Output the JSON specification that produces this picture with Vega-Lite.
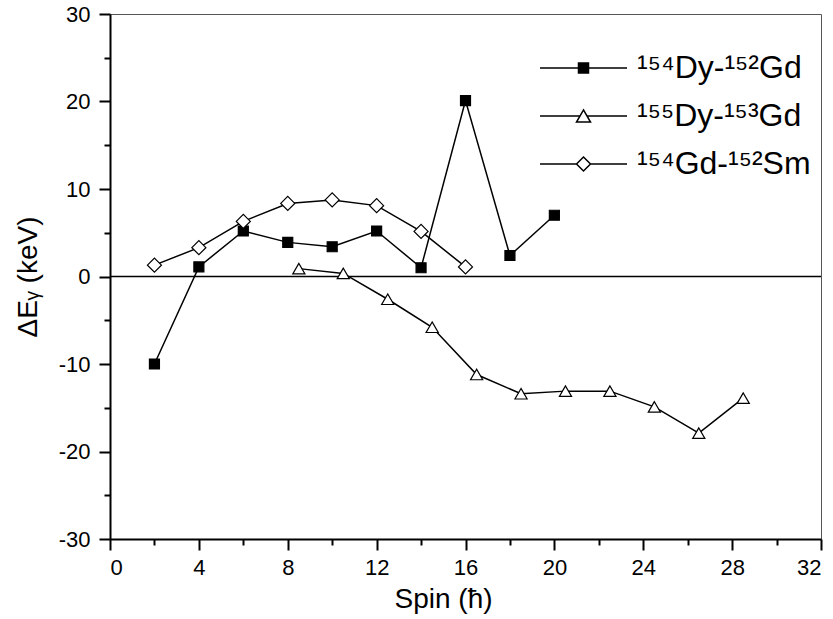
{
  "$schema": "https://vega.github.io/schema/vega-lite/v6.json",
  "width": 711,
  "height": 525,
  "autosize": "none",
  "padding": {"left": 110, "top": 14, "right": 12, "bottom": 80},
  "background": "white",
  "config": {
    "view": {"stroke": "#555555", "strokeWidth": 1},
    "font": "Liberation Sans",
    "axis": {"grid": false, "domainColor": "black", "domainWidth": 2, "tickColor": "black", "tickWidth": 2, "labelColor": "black", "titleColor": "black", "labelFont": "Liberation Sans", "titleFont": "Liberation Sans", "labelFontSize": 22, "titleFontSize": 28, "titleFontWeight": "normal"}
  },
  "data": {
    "values": [
      {"series": "¹⁵⁴Dy-¹⁵²Gd", "spin": 2, "dE": -10.0},
      {"series": "¹⁵⁴Dy-¹⁵²Gd", "spin": 4, "dE": 1.1},
      {"series": "¹⁵⁴Dy-¹⁵²Gd", "spin": 6, "dE": 5.2},
      {"series": "¹⁵⁴Dy-¹⁵²Gd", "spin": 8, "dE": 3.9},
      {"series": "¹⁵⁴Dy-¹⁵²Gd", "spin": 10, "dE": 3.4},
      {"series": "¹⁵⁴Dy-¹⁵²Gd", "spin": 12, "dE": 5.2},
      {"series": "¹⁵⁴Dy-¹⁵²Gd", "spin": 14, "dE": 1.0},
      {"series": "¹⁵⁴Dy-¹⁵²Gd", "spin": 16, "dE": 20.1},
      {"series": "¹⁵⁴Dy-¹⁵²Gd", "spin": 18, "dE": 2.4},
      {"series": "¹⁵⁴Dy-¹⁵²Gd", "spin": 20, "dE": 7.0},
      {"series": "¹⁵⁵Dy-¹⁵³Gd", "spin": 8.5, "dE": 0.9},
      {"series": "¹⁵⁵Dy-¹⁵³Gd", "spin": 10.5, "dE": 0.35},
      {"series": "¹⁵⁵Dy-¹⁵³Gd", "spin": 12.5, "dE": -2.6},
      {"series": "¹⁵⁵Dy-¹⁵³Gd", "spin": 14.5, "dE": -5.8},
      {"series": "¹⁵⁵Dy-¹⁵³Gd", "spin": 16.5, "dE": -11.2},
      {"series": "¹⁵⁵Dy-¹⁵³Gd", "spin": 18.5, "dE": -13.4},
      {"series": "¹⁵⁵Dy-¹⁵³Gd", "spin": 20.5, "dE": -13.1},
      {"series": "¹⁵⁵Dy-¹⁵³Gd", "spin": 22.5, "dE": -13.1},
      {"series": "¹⁵⁵Dy-¹⁵³Gd", "spin": 24.5, "dE": -14.9},
      {"series": "¹⁵⁵Dy-¹⁵³Gd", "spin": 26.5, "dE": -17.9},
      {"series": "¹⁵⁵Dy-¹⁵³Gd", "spin": 28.5, "dE": -13.9},
      {"series": "¹⁵⁴Gd-¹⁵²Sm", "spin": 2, "dE": 1.3},
      {"series": "¹⁵⁴Gd-¹⁵²Sm", "spin": 4, "dE": 3.3},
      {"series": "¹⁵⁴Gd-¹⁵²Sm", "spin": 6, "dE": 6.3},
      {"series": "¹⁵⁴Gd-¹⁵²Sm", "spin": 8, "dE": 8.35},
      {"series": "¹⁵⁴Gd-¹⁵²Sm", "spin": 10, "dE": 8.75},
      {"series": "¹⁵⁴Gd-¹⁵²Sm", "spin": 12, "dE": 8.1},
      {"series": "¹⁵⁴Gd-¹⁵²Sm", "spin": 14, "dE": 5.15},
      {"series": "¹⁵⁴Gd-¹⁵²Sm", "spin": 16, "dE": 1.1}
    ]
  },
  "layer": [
    {
      "data": {"values": [{"zero": 0}]},
      "mark": {"type": "rule", "color": "black", "strokeWidth": 1.5},
      "encoding": {
        "y": {"field": "zero", "type": "quantitative", "scale": {"domain": [-30, 30], "nice": false, "zero": false},
          "axis": {"values": [-30, -25, -20, -15, -10, -5, 0, 5, 10, 15, 20, 25, 30], "labelExpr": "datum.value % 10 === 0 ? '' + datum.value : ''", "tickSize": {"condition": {"test": "datum.value % 10 === 0", "value": 11}, "value": 6}, "labelPadding": 9, "title": "ΔEᵧ (keV)", "titlePadding": 16}}
      }
    },
    {
      "mark": {"type": "line", "color": "black", "strokeWidth": 1.5},
      "encoding": {
        "x": {"field": "spin", "type": "quantitative", "scale": {"domain": [0, 32], "nice": false, "zero": false},
          "axis": {"values": [0, 2, 4, 6, 8, 10, 12, 14, 16, 18, 20, 22, 24, 26, 28, 30, 32], "labelExpr": "datum.value % 4 === 0 ? '' + datum.value : ''", "tickSize": {"condition": {"test": "datum.value % 4 === 0", "value": 11}, "value": 6}, "labelPadding": 7, "title": "Spin (ħ)", "titlePadding": 7, "titleX": 333, "titleAnchor": "start", "titleAlign": "center"}},
        "y": {"field": "dE", "type": "quantitative"},
        "detail": {"field": "series"}
      }
    },
    {
      "mark": {"type": "point", "filled": false, "stroke": "black", "strokeWidth": 1.2, "opacity": 1},
      "encoding": {
        "x": {"field": "spin", "type": "quantitative"},
        "y": {"field": "dE", "type": "quantitative"},
        "shape": {"field": "series", "type": "nominal", "scale": {"domain": ["¹⁵⁴Dy-¹⁵²Gd", "¹⁵⁵Dy-¹⁵³Gd", "¹⁵⁴Gd-¹⁵²Sm"], "range": ["square", "triangle-up", "diamond"]}, "legend": null},
        "fill": {"field": "series", "type": "nominal", "scale": {"domain": ["¹⁵⁴Dy-¹⁵²Gd", "¹⁵⁵Dy-¹⁵³Gd", "¹⁵⁴Gd-¹⁵²Sm"], "range": ["black", "white", "white"]}, "legend": null},
        "size": {"field": "series", "type": "nominal", "scale": {"domain": ["¹⁵⁴Dy-¹⁵²Gd", "¹⁵⁵Dy-¹⁵³Gd", "¹⁵⁴Gd-¹⁵²Sm"], "range": [100, 196, 196]}, "legend": null}
      }
    },
    {
      "transform": [{"filter": "false"}],
      "mark": {"type": "point", "filled": false, "stroke": "black", "strokeWidth": 1.5, "opacity": 1},
      "encoding": {
        "shape": {"field": "series", "type": "nominal",
          "scale": {"domain": ["¹⁵⁴Dy-¹⁵²Gd", "¹⁵⁵Dy-¹⁵³Gd", "¹⁵⁴Gd-¹⁵²Sm"],
            "range": [
              "M-1,0L1,0M-0.115,-0.115L0.115,-0.115L0.115,0.115L-0.115,0.115ZM-0.115,-0.092L0.115,-0.092M-0.115,-0.069L0.115,-0.069M-0.115,-0.046L0.115,-0.046M-0.115,-0.023L0.115,-0.023M-0.115,0.023L0.115,0.023M-0.115,0.046L0.115,0.046M-0.115,0.069L0.115,0.069M-0.115,0.092L0.115,0.092",
              "M-1,0L-0.08,0M0.08,0L1,0M0,-0.138L0.161,0.138L-0.161,0.138Z",
              "M-1,0L-0.161,0M0.161,0L1,0M0,-0.161L0.161,0L0,0.161L-0.161,0Z"
            ]},
          "legend": {"title": null, "orient": "none", "legendX": 429, "legendY": 34, "padding": 0, "symbolSize": 7569, "symbolStrokeWidth": 1.5, "symbolStrokeColor": "black", "labelFont": "Liberation Sans", "labelFontSize": 32, "labelColor": "black", "labelOffset": 9, "labelLimit": 400, "clipHeight": 40, "rowPadding": 8,
            "encode": {"symbols": {"update": {"stroke": {"value": "black"}, "strokeWidth": {"value": 1.5}, "opacity": {"value": 1}}}}}}
      }
    }
  ],
  "resolve": {"scale": {"shape": "independent", "fill": "independent", "size": "independent"}}
}
